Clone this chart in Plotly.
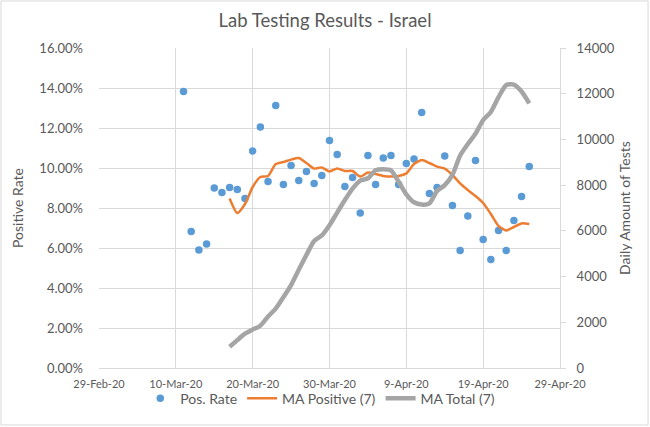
import pandas as pd
import plotly.graph_objects as go

# daily positive rate (%), 11-Mar-20 .. 25-Apr-20
pos_rate = [13.83, 6.82, 5.90, 6.20, 9.00, 8.78, 9.03, 8.92, 8.48, 10.85,
            12.05, 9.33, 13.12, 9.17, 10.12, 9.38, 9.83, 9.23, 9.62, 11.38,
            10.67, 9.07, 9.53, 7.75, 10.62, 9.17, 10.50, 10.62, 9.17, 10.22,
            10.45, 12.77, 8.73, 9.02, 10.60, 8.12, 5.88, 7.60, 10.37, 6.43,
            5.42, 6.88, 5.88, 7.38, 8.58, 10.07]

# 7-day moving averages, 17-Mar-20 .. 25-Apr-20
ma_positive = [8.48, 7.75, 8.20, 9.05, 9.55, 9.60, 10.20, 10.30, 10.42, 10.50,
               10.25, 9.97, 10.03, 9.82, 9.98, 9.85, 9.85, 9.57, 9.77, 9.70,
               9.60, 9.57, 9.60, 9.73, 10.20, 10.40, 10.25, 10.07, 9.97, 9.65,
               9.23, 8.90, 8.60, 8.25, 7.70, 7.10, 6.88, 7.05, 7.23, 7.20]

ma_total = [930, 1220, 1500, 1680, 1850, 2250, 2600, 3100, 3630, 4300,
            4950, 5560, 5800, 6250, 6800, 7350, 7850, 8200, 8300, 8650,
            8700, 8650, 8150, 7600, 7250, 7150, 7200, 7750, 8000, 8450,
            9300, 9800, 10250, 10850, 11200, 11850, 12380, 12400, 12100, 11580]

days = pd.date_range("2020-03-11", periods=len(pos_rate), freq="D")
ma_days = days[6:]

tick_dates = pd.date_range("2020-02-29", "2020-04-29", freq="10D")

grey_txt = "#595959"
grid = "#d9d9d9"
font = "Lato, 'Open Sans', sans-serif"

fig = go.Figure()

fig.add_trace(go.Scatter(
    x=days, y=[v / 100 for v in pos_rate], mode="markers", name="Pos. Rate",
    marker=dict(color="#5B9BD5", size=7.5)))

fig.add_trace(go.Scatter(
    x=ma_days, y=[v / 100 for v in ma_positive], mode="lines", name="MA Positive (7)",
    line=dict(color="#ED7D31", width=2.5, shape="spline", smoothing=0.6)))

fig.add_trace(go.Scatter(
    x=ma_days, y=ma_total, mode="lines", name="MA Total (7)", yaxis="y2",
    line=dict(color="#A5A5A5", width=4.5, shape="spline", smoothing=0.6)))

fig.update_layout(
    width=650, height=427,
    margin=dict(l=99, r=90, t=48, b=59),
    paper_bgcolor="white", plot_bgcolor="white",
    font=dict(family=font, size=12, color=grey_txt),
    title=dict(text="Lab Testing Results - Israel", x=0.5, xanchor="center",
               y=0.952, yanchor="middle", font=dict(size=18.5, color=grey_txt)),
    xaxis=dict(
        range=[tick_dates[0], tick_dates[-1]],
        tickvals=list(tick_dates), tickformat="%-d-%b-%y",
        showgrid=True, gridcolor=grid, gridwidth=1,
        showline=True, linecolor=grid, zeroline=False,
        ticks="", ticklabelstandoff=6, tickfont=dict(size=11, color=grey_txt)),
    yaxis=dict(
        range=[0, 0.16], dtick=0.02, tickformat=".2%",
        showgrid=True, gridcolor=grid, zeroline=False, showline=False,
        ticks="", ticklabelstandoff=15,
        title=dict(text="Positive Rate", font=dict(size=14, color=grey_txt), standoff=12),
        tickfont=dict(size=13, color=grey_txt)),
    yaxis2=dict(
        range=[0, 14000], dtick=2000, tickformat="d", overlaying="y", side="right",
        showgrid=False, zeroline=False, showline=True, linecolor=grid,
        ticks="outside", ticklen=5, tickcolor=grid, ticklabelstandoff=8,
        title=dict(text="Daily Amount of Tests", font=dict(size=14, color=grey_txt), standoff=6),
        tickfont=dict(size=13, color=grey_txt)),
    # paper-anchored legend, kept low enough that it does not shrink the plot area
    legend=dict(orientation="h", x=0.48, xanchor="center",
                y=-0.146, yanchor="bottom",
                font=dict(size=14, color=grey_txt), itemwidth=30,
                bgcolor="rgba(0,0,0,0)"),
    showlegend=True,
)

# light border around the chart area, like the spreadsheet chart frame
fig.add_shape(type="rect", xref="paper", yref="paper",
              x0=-0.2126, x1=1.191, y0=-0.178, y1=1.147,
              line=dict(color="#d9d9d9", width=1), layer="below")

fig.write_html("out.html", config={"displayModeBar": False},
               post_script="document.body.style.margin='0';")
